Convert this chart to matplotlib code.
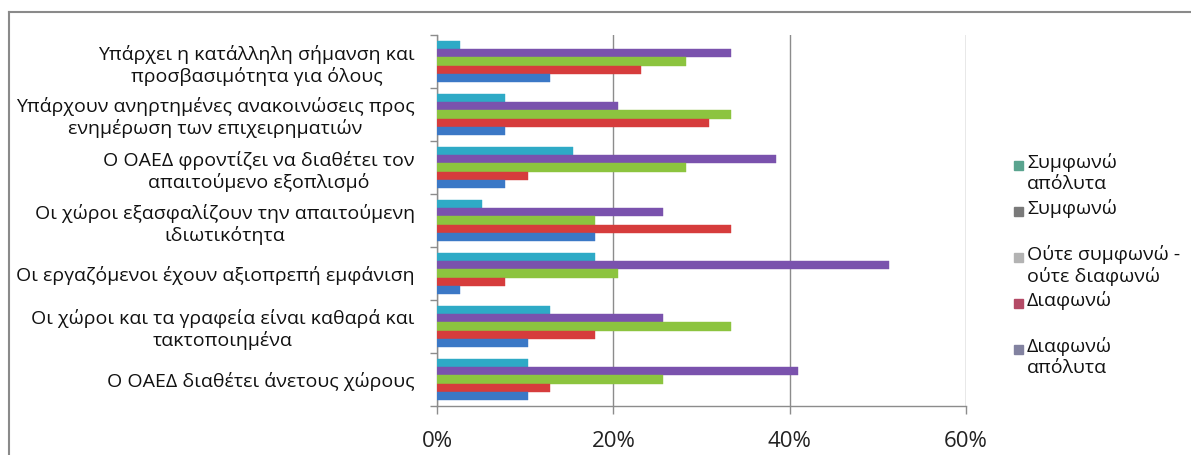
import matplotlib
matplotlib.use("Agg")
import numpy as np
import matplotlib.pyplot as plt
from matplotlib.patches import Rectangle
from matplotlib.lines import Line2D

plt.rcParams["font.family"] = ["Open Sans", "DejaVu Sans"]

# categories from bottom to top of the chart
categories = [
    "Ο ΟΑΕΔ διαθέτει άνετους χώρους",
    "Οι χώροι και τα γραφεία είναι καθαρά και\nτακτοποιημένα",
    "Οι εργαζόμενοι έχουν αξιοπρεπή εμφάνιση",
    "Οι χώροι εξασφαλίζουν την απαιτούμενη\nιδιωτικότητα",
    "Ο ΟΑΕΔ φροντίζει να διαθέτει τον\nαπαιτούμενο εξοπλισμό",
    "Υπάρχουν ανηρτημένες ανακοινώσεις προς\nενημέρωση των επιχειρηματιών",
    "Υπάρχει η κατάλληλη σήμανση και\nπροσβασιμότητα για όλους",
]

# answer shares in percent, same order as categories
symfono_apolyta = [10.3, 12.8, 17.9, 5.1, 15.4, 7.7, 2.6]
symfono = [41.0, 25.6, 51.3, 25.6, 38.5, 20.5, 33.3]
oute = [25.6, 33.3, 20.5, 17.9, 28.2, 33.3, 28.2]
diafono = [12.8, 17.9, 7.7, 33.3, 10.3, 30.8, 23.1]
diafono_apolyta = [10.3, 10.3, 2.6, 17.9, 7.7, 7.7, 12.8]

series_names = [
    "Συμφωνώ\nαπόλυτα",
    "Συμφωνώ",
    "Ούτε συμφωνώ -\nούτε διαφωνώ",
    "Διαφωνώ",
    "Διαφωνώ\nαπόλυτα",
]
bar_colors = ["#2eaac6", "#7a52ad", "#8cc43f", "#d63c3c", "#3b78c6"]
legend_colors = ["#5aa48f", "#7a7a7a", "#b3b3b3", "#b44a66", "#8282a0"]

fig = plt.figure(figsize=(11.91, 4.55), dpi=100)
W, H = 1191, 455
ax = fig.add_axes([437 / W, 1 - 406 / H, (966 - 437) / W, (406 - 35) / H])

y = np.arange(len(categories))
h = 0.151
values = [symfono_apolyta, symfono, oute, diafono, diafono_apolyta]
for i, (vals, col) in enumerate(zip(values, bar_colors)):
    offset = (2 - i) * h
    ax.barh(y + offset, vals, height=h, color=col, edgecolor=col, linewidth=0.3, zorder=3)

ax.set_xlim(0, 60)
ax.set_ylim(-0.5, len(categories) - 0.5)
ax.set_xticks([0, 20, 40, 60])
ax.set_xticklabels(["0%", "20%", "40%", "60%"], fontsize=16, color="#222222")
ax.tick_params(axis="x", length=6, width=1, color="#8c8c8c", pad=12)

ax.set_yticks(np.arange(-0.5, len(categories), 1))
ax.set_yticklabels([])
ax.tick_params(axis="y", which="major", length=5, width=1, color="#8c8c8c")
ax.set_yticks(y, minor=True)
ax.set_yticklabels(categories, minor=True, fontsize=14, color="#111111")
ax.tick_params(axis="y", which="minor", length=0, pad=16)
for t in ax.get_yticklabels(minor=True):
    t.set_multialignment("center")
    t.set_linespacing(1.2)

ax.grid(axis="x", color="#8c8c8c", linewidth=1, zorder=0)
ax.set_axisbelow(True)
for side in ["top", "right"]:
    ax.spines[side].set_visible(False)
for side in ["left", "bottom"]:
    ax.spines[side].set_color("#8c8c8c")
    ax.spines[side].set_linewidth(1)

# legend drawn by hand so each marker sits on the first line of its label
leg_x = 1014 / W
leg_top = 166 / H
leg_step = 46 / H
for i, (name, col) in enumerate(zip(series_names, legend_colors)):
    yc = 1 - leg_top - i * leg_step
    fig.add_artist(Rectangle((leg_x, yc - 4 / H), 9 / W, 9 / H,
                             transform=fig.transFigure, color=col))
    fig.text(leg_x + 13 / W, yc + 13 / H, name, fontsize=14, va="top",
             ha="left", color="#111111", linespacing=1.2)

# outer chart border (top and left edges)
fig.add_artist(Line2D([9 / W, 9 / W], [0, 1 - 12 / H], transform=fig.transFigure,
                      color="#8a8a8a", linewidth=1.5))
fig.add_artist(Line2D([9 / W, 1], [1 - 12 / H, 1 - 12 / H], transform=fig.transFigure,
                      color="#8a8a8a", linewidth=1.5))

fig.savefig("out.png", dpi=100)
